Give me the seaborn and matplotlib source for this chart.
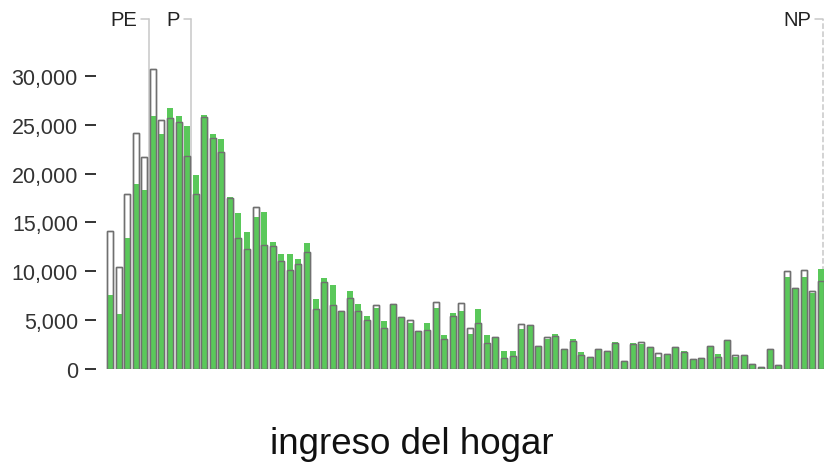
import pandas as pd
import seaborn as sns
import matplotlib.pyplot as plt
from matplotlib.ticker import FuncFormatter

# valores (hogares por tramo de ingreso)
verde = [7600, 5600, 13400, 18900, 18300, 25900, 24100, 26700, 25900, 24900,
         19900, 26000, 24100, 23500, 17600, 16000, 14000, 15600, 16100, 13000,
         11800, 11800, 11300, 12900, 7200, 9300, 8600, 5900, 8000, 6700,
         5400, 6200, 4900, 6700, 5300, 4700, 3900, 4700, 6200, 3500,
         5700, 5900, 3600, 6100, 3500, 3200, 1800, 1800, 4100, 4500,
         2400, 3100, 3600, 2000, 3100, 1700, 1200, 2000, 1800, 2800,
         800, 2700, 2600, 2300, 1200, 1500, 2300, 1800, 1000, 1100,
         2400, 1500, 3000, 1200, 1400, 500, 200, 2000, 400, 9400,
         8300, 9400, 7800, 10200]
contorno = [14100, 10400, 17900, 24200, 21700, 30700, 25500, 25700, 25300, 21800,
            17900, 25800, 23600, 22200, 17500, 13400, 12300, 16600, 12700, 12600,
            11100, 10100, 10700, 12000, 6100, 8900, 6600, 5900, 7300, 5900,
            5000, 6500, 4200, 6700, 5300, 5000, 3900, 4000, 6900, 3100,
            5400, 6800, 4200, 4700, 2700, 3300, 1100, 1300, 4600, 4500,
            2400, 3300, 3400, 2000, 2900, 1400, 1200, 2000, 1800, 2700,
            800, 2600, 2800, 2300, 1600, 1500, 2300, 1700, 1000, 1100,
            2400, 1200, 3000, 1400, 1400, 500, 200, 2000, 400, 10000,
            8300, 10100, 8000, 9000]
marcas = ["PE", "P", "NP"]
pos_marcas = [4.5, 9.5, 83.2]
ticks_y = [0, 5000, 10000, 15000, 20000, 25000, 30000]

df = pd.DataFrame({"tramo": range(len(verde)), "verde": verde, "contorno": contorno})

sns.set_style("white")
plt.rcParams["font.family"] = ["Liberation Sans", "DejaVu Sans"]

gris = "#707070"
fig = plt.figure(figsize=(8.24, 4.64), dpi=100)
ax = fig.add_axes([96 / 824, 94 / 464, 728 / 824, 351.7 / 464])

# capas: contorno blanco, barra verde, borde encima
sns.barplot(data=df, x="tramo", y="contorno", color="white", edgecolor=gris,
            linewidth=1.0, width=0.7, saturation=1, errorbar=None, ax=ax)
sns.barplot(data=df, x="tramo", y="verde", color="#5ac85a", linewidth=0,
            width=0.7, saturation=1, errorbar=None, ax=ax)
sns.barplot(data=df, x="tramo", y="contorno", color=gris, fill=False,
            linewidth=1.0, width=0.7, errorbar=None, ax=ax)

ax.set_xlim(-1.634, 83.35)
ax.set_ylim(0, 36000)
y_lab = 35800
for nombre, xm in zip(marcas, pos_marcas):
    estilo = "--" if nombre == "NP" else "-"
    ax.plot([xm, xm], [0, y_lab], color="#c8c8c8", lw=1.1, ls=estilo, zorder=0.5)
    ax.plot([xm - 0.88, xm], [y_lab, y_lab], color="#c8c8c8", lw=1.1, zorder=0.5)
    ax.text(xm - 1.35, y_lab, nombre, ha="right", va="center", fontsize=14.5, color="#222222")

ax.set_xticks([])
ax.set_yticks(ticks_y)
ax.yaxis.set_major_formatter(FuncFormatter(lambda v, p: f"{v:,.0f}"))
ax.tick_params(axis="y", left=True, length=8, width=1.4, color="#333333",
               pad=5, labelsize=15.5, labelcolor="#333333")
ax.set_xlabel("")
ax.set_ylabel("")
for s in ax.spines.values():
    s.set_visible(False)

fig.text(0.5, 19 / 464, "ingreso del hogar", ha="center", va="center",
         fontsize=26.5, color="#111111")

fig.savefig("out.png", dpi=100)
